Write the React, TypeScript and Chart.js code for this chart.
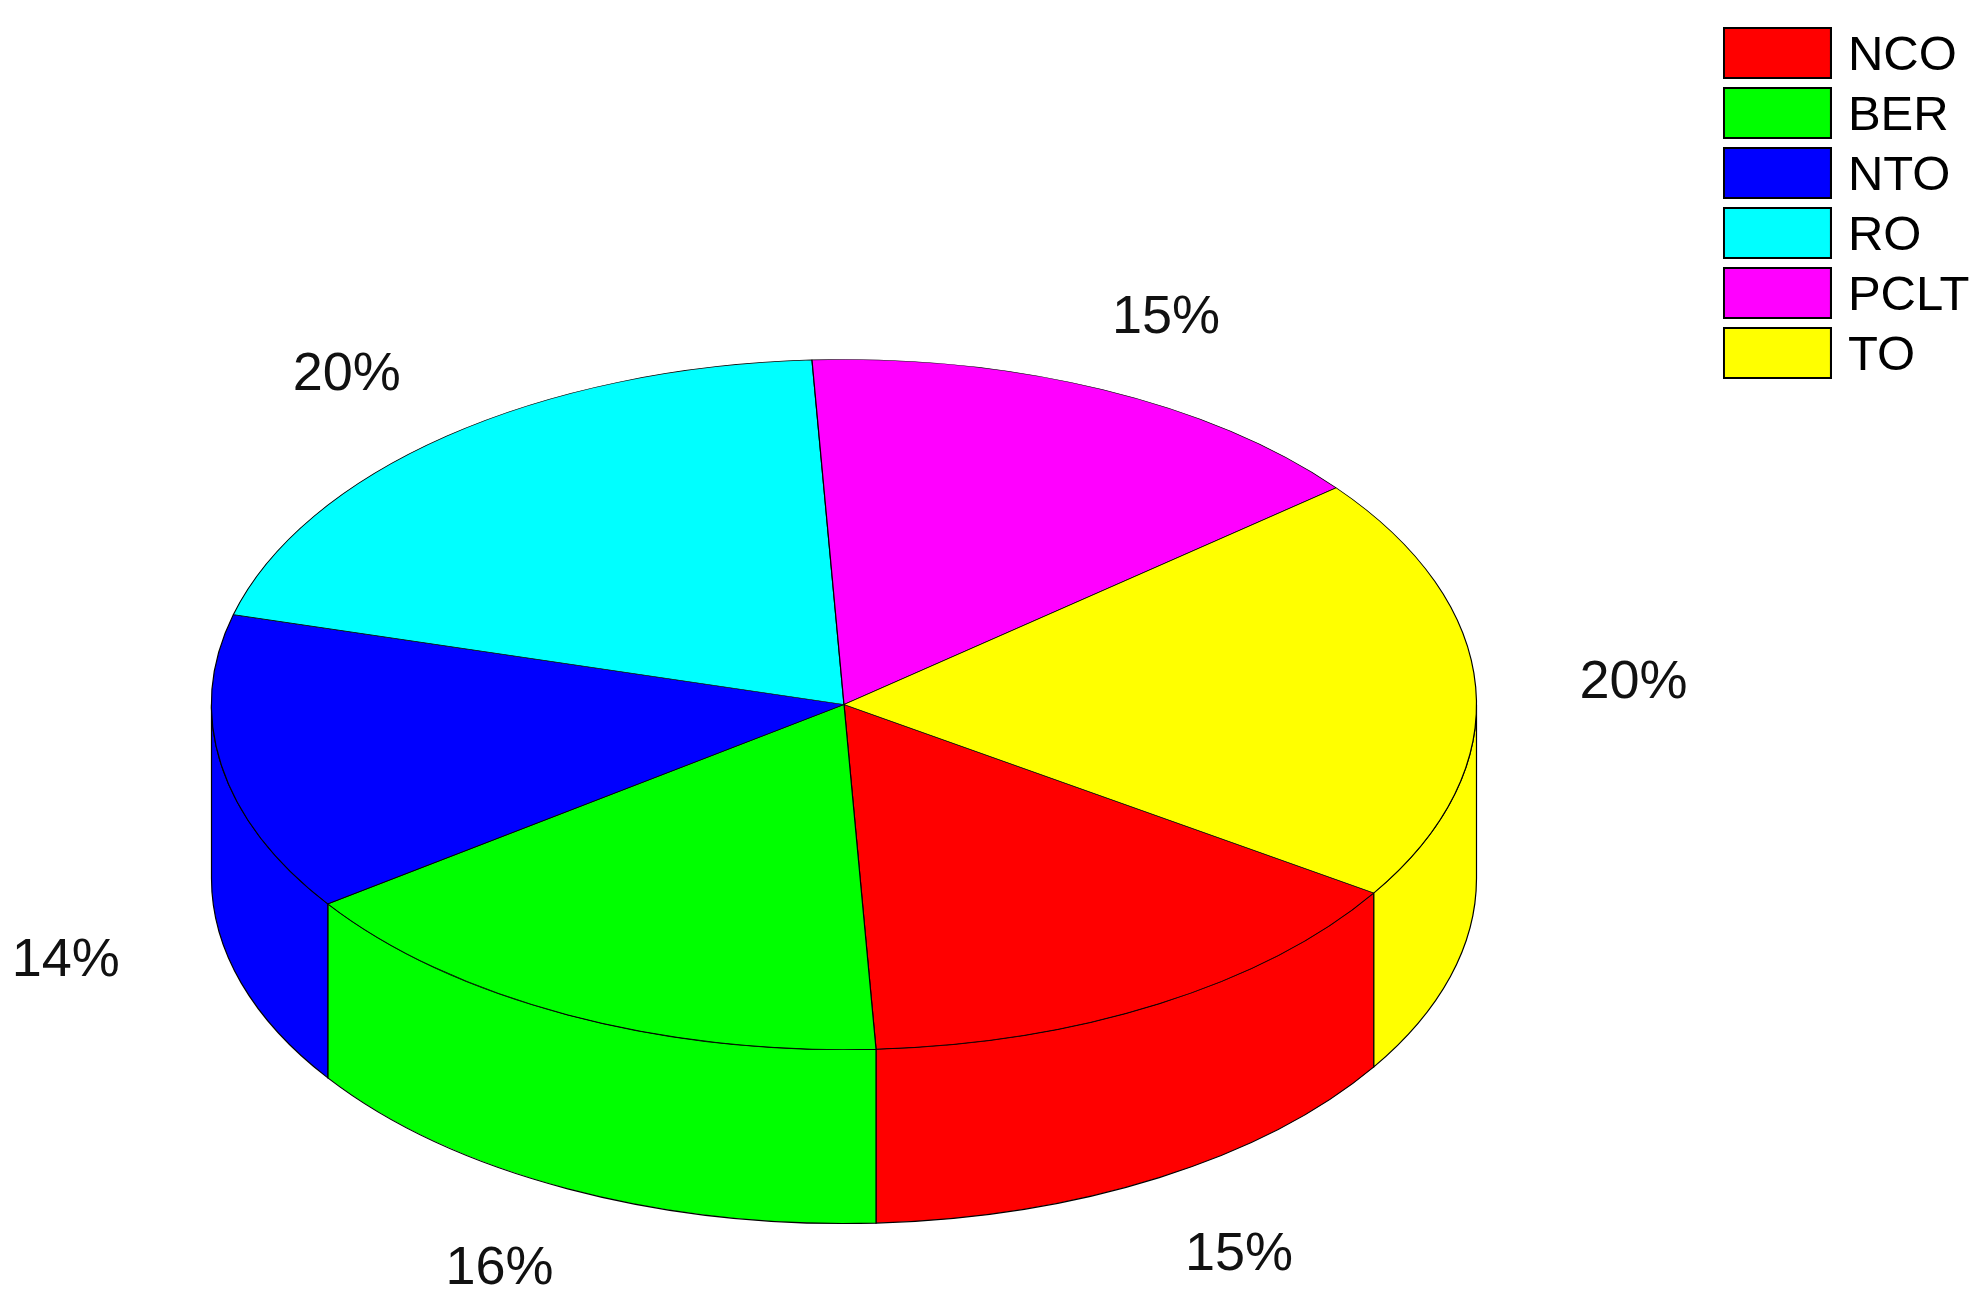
import React, { useEffect, useRef } from "react";
import { Chart, registerables } from "chart.js";

Chart.register(...registerables);

const categories = ["NCO", "BER", "NTO", "RO", "PCLT", "TO"];
const shares = [15, 16, 14, 20, 15, 20];
const colours = ["#ff0000", "#00ff00", "#0000ff", "#00ffff", "#ff00ff", "#ffff00"];

// Look of the tilted disc (pixels on the page)
const DISC = { cx: 844, cy: 704.5, rx: 632.5, ry: 345, depth: 174 };
const START_ANGLE = 123.1; // Chart.js rotation, degrees clockwise from the top
const LABEL_FONT = '54px "Liberation Sans", Arial, sans-serif';
const LEGEND_FONT_SIZE = 49;
const LABEL_RADIUS_X = 1.25;
const LABEL_RADIUS_Y = 1.23;
const LABEL_CENTRE_Y = 705;
const LABEL_EXTRA_DROP = 8;
const LABEL_SKEW_X = 1;
const SWATCH = { width: 109, height: 52, border: 2, bottomGap: 6 };

function makeSwatch(colour: string) {
  const c = document.createElement("canvas");
  c.width = SWATCH.width;
  c.height = SWATCH.height + SWATCH.bottomGap;
  const g = c.getContext("2d") as CanvasRenderingContext2D;
  g.fillStyle = colour;
  g.fillRect(0, 0, SWATCH.width, SWATCH.height);
  g.strokeStyle = "#000000";
  g.lineWidth = SWATCH.border;
  g.strokeRect(1, 1, SWATCH.width - 2, SWATCH.height - 2);
  return c;
}

const discPlugin = {
  id: "disc3d",
  afterLayout(chart: any) {
    // The swatches are wider than the legend's own box: do not clip them to it
    const legend = chart.legend;
    legend.draw = function () {
      this._draw();
    };
  },
  beforeDatasetDraw(chart: any) {
    const ctx = chart.ctx;
    const arcs = chart.getDatasetMeta(0).data;
    const { cx, cy, rx, ry, depth } = DISC;
    ctx.save();
    arcs.forEach((arc: any, i: number) => {
      const start = arc.startAngle;
      const end = arc.endAngle;
      for (const shift of [-2 * Math.PI, 0, 2 * Math.PI]) {
        const a0 = Math.max(start + shift, 0);
        const a1 = Math.min(end + shift, Math.PI);
        if (a1 <= a0) continue;
        ctx.beginPath();
        ctx.ellipse(cx, cy, rx, ry, 0, a0, a1, false);
        ctx.lineTo(cx + rx * Math.cos(a1), cy + ry * Math.sin(a1) + depth);
        ctx.ellipse(cx, cy + depth, rx, ry, 0, a1, a0, true);
        ctx.closePath();
        ctx.fillStyle = colours[i];
        ctx.fill();
        ctx.lineWidth = 1.2;
        ctx.strokeStyle = "#000000";
        ctx.stroke();
      }
    });
    ctx.restore();
    // Squash the library's own pie onto the disc's top face
    const first = arcs[0];
    ctx.save();
    ctx.translate(cx, cy);
    ctx.scale(rx / first.outerRadius, ry / first.outerRadius);
    ctx.translate(-first.x, -first.y);
  },
  afterDatasetDraw(chart: any) {
    chart.ctx.restore();
  },
  afterDraw(chart: any) {
    const ctx = chart.ctx;
    const arcs = chart.getDatasetMeta(0).data;
    const { cx, rx, ry, depth } = DISC;
    ctx.save();
    ctx.font = LABEL_FONT;
    ctx.fillStyle = "#111111";
    ctx.textAlign = "center";
    ctx.textBaseline = "middle";
    arcs.forEach((arc: any, i: number) => {
      const mid = (arc.startAngle + arc.endAngle) / 2;
      const sin = Math.sin(mid);
      const x = cx + rx * LABEL_RADIUS_X * Math.cos(mid) + LABEL_SKEW_X * sin;
      const y = LABEL_CENTRE_Y + ry * LABEL_RADIUS_Y * sin + (sin > 0 ? depth + LABEL_EXTRA_DROP : 0);
      ctx.fillText(`${shares[i]}%`, x, y);
    });
    ctx.restore();
  },
};

export default function App() {
  const ref = useRef<HTMLCanvasElement>(null);
  useEffect(() => {
    const swatches = colours.map(makeSwatch);
    const chart = new Chart(ref.current as HTMLCanvasElement, {
      type: "pie",
      data: {
        labels: categories,
        datasets: [
          {
            data: shares,
            backgroundColor: colours,
            borderColor: "#000000",
            borderWidth: 1.2,
            clip: false,
          } as any,
        ],
      },
      options: {
        animation: false,
        responsive: false,
        rotation: START_ANGLE,
        layout: { padding: { top: 20.5, right: 3.5, left: 0, bottom: 0 } },
        plugins: {
          title: { display: false },
          tooltip: { enabled: false },
          legend: {
            display: true,
            position: "right",
            align: "start",
            labels: {
              usePointStyle: true,
              pointStyleWidth: 92,
              padding: 11,
              color: "#111111",
              font: { family: '"Liberation Sans", Arial, sans-serif', size: LEGEND_FONT_SIZE },
              generateLabels: () =>
                categories.map((text, i) => ({
                  text,
                  fillStyle: colours[i],
                  strokeStyle: "#000000",
                  lineWidth: 2,
                  hidden: false,
                  index: i,
                  pointStyle: swatches[i],
                })),
            },
          },
        },
      } as any,
      plugins: [discPlugin],
    });
    return () => chart.destroy();
  }, []);
  return (
    <div style={{ position: "fixed", left: 0, top: 0, width: 1983, height: 1295, background: "#ffffff" }}>
      <canvas ref={ref} width={1983} height={1295} style={{ display: "block" }} />
    </div>
  );
}
